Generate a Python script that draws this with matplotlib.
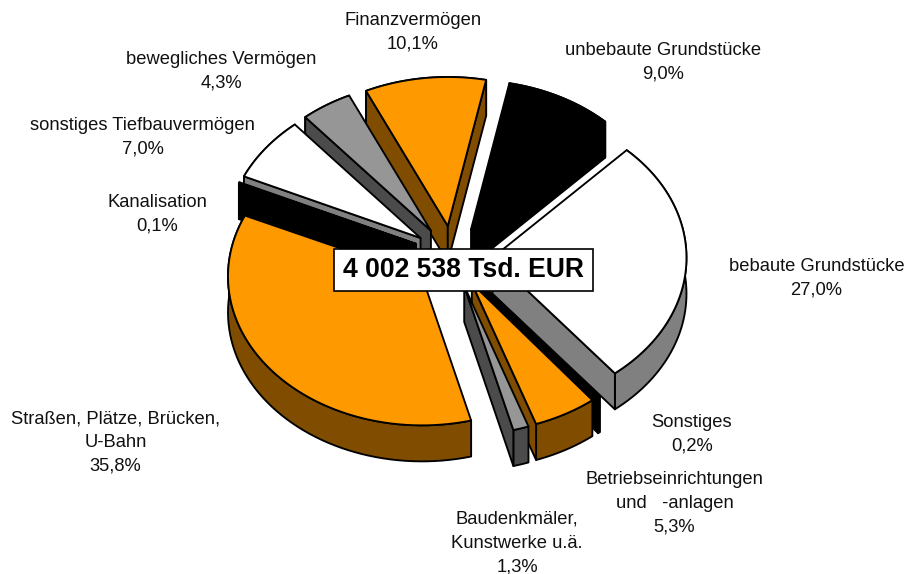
import numpy as np
import matplotlib
matplotlib.use("Agg")
import matplotlib.pyplot as plt
from matplotlib.patches import Rectangle

plt.rcParams['font.family'] = ['Liberation Sans', 'DejaVu Sans']

# clockwise, starting at the top
labels = ['unbebaute Grundstücke\n9,0%', 'bebaute Grundstücke\n27,0%', 'Sonstiges\n0,2%',
          'Betriebseinrichtungen\nund   -anlagen\n5,3%', 'Baudenkmäler,\nKunstwerke u.ä.\n1,3%',
          'Straßen, Plätze, Brücken,\nU-Bahn\n35,8%', 'Kanalisation\n0,1%',
          'sonstiges Tiefbauvermögen\n7,0%', 'bewegliches Vermögen\n4,3%', 'Finanzvermögen\n10,1%']
values = [9.0, 27.0, 0.2, 5.3, 1.3, 35.8, 0.1, 7.0, 4.3, 10.1]
top_colors = ['#000000', '#FFFFFF', '#000000', '#FF9900', '#969696',
              '#FF9900', '#000000', '#FFFFFF', '#969696', '#FF9900']
side_colors = ['#000000', '#808080', '#000000', '#804D00', '#4B4B4B',
               '#804D00', '#000000', '#808080', '#4B4B4B', '#804D00']
total_label = '4 002 538 Tsd. EUR'

W, H = 908, 574
cx, cy = 452.5, 256.5    # pie centre in pixels
rx, ry = 194, 149        # radii in pixels
start_angle = 78.6
explode = 40 / rx
depth = 36 / ry
label_pos = [(663, 62), (816.5, 278.5), (692, 434.5), (674.5, 503), (517, 543),
             (115.5, 442.5), (157.5, 214.5), (142.5, 137), (221.5, 71.5), (413, 32)]
draw_order = [0, 9, 8, 7, 6, 5, 1, 2, 3, 4]

fig = plt.figure(figsize=(W / 100, H / 100), dpi=100)
ax = fig.add_axes([0, 0, 1, 1])
ax.set_xlim(-cx / rx, (W - cx) / rx)
ax.set_ylim(-(H - cy) / ry, cy / ry)
ax.axis('off')

shares = np.array(values) / sum(values) * 360
ends = start_angle - np.cumsum(shares)
starts = ends + shares

line = dict(edgecolor='black', linewidth=1.35, joinstyle='round')
for i in draw_order:
    mid = np.radians((starts[i] + ends[i]) / 2)
    x0 = explode * np.cos(mid)
    y0 = explode * np.sin(mid)
    t = np.radians(np.linspace(starts[i], ends[i], 60))
    xs = x0 + np.cos(t)
    ys = y0 + np.sin(t)
    ax.fill(np.r_[xs, xs[::-1]], np.r_[ys, ys[::-1] - depth],
            facecolor=side_colors[i], **line)
    # a cut face only shows when the slice lies above that edge
    for xe, ye in [(xs[0], ys[0]), (xs[-1], ys[-1])]:
        dx, dy = xe - x0, ye - y0
        inside = -dy * np.cos(mid) + dx * np.sin(mid)
        if (inside > 0) == (dx > 0):
            ax.fill([x0, xe, xe, x0], [y0, ye, ye - depth, y0 - depth],
                    facecolor=side_colors[i], **line)
    ax.fill(np.r_[x0, xs], np.r_[y0, ys], facecolor=top_colors[i], **line)

for text, (px, py) in zip(labels, label_pos):
    fig.text(px / W, 1 - py / H, text, ha='center', va='center', fontsize=13.2,
             color='#111111', linespacing=1.5)

fig.add_artist(Rectangle((334 / W, 1 - 291 / H), 259 / W, 42 / H, transform=fig.transFigure,
                         facecolor='white', edgecolor='black', linewidth=1.2, zorder=5))
fig.text(463.5 / W, 1 - 270 / H, total_label, ha='center', va='center', fontsize=19.1,
         fontweight='bold', color='black', zorder=6)

fig.savefig('out.png', dpi=100)
